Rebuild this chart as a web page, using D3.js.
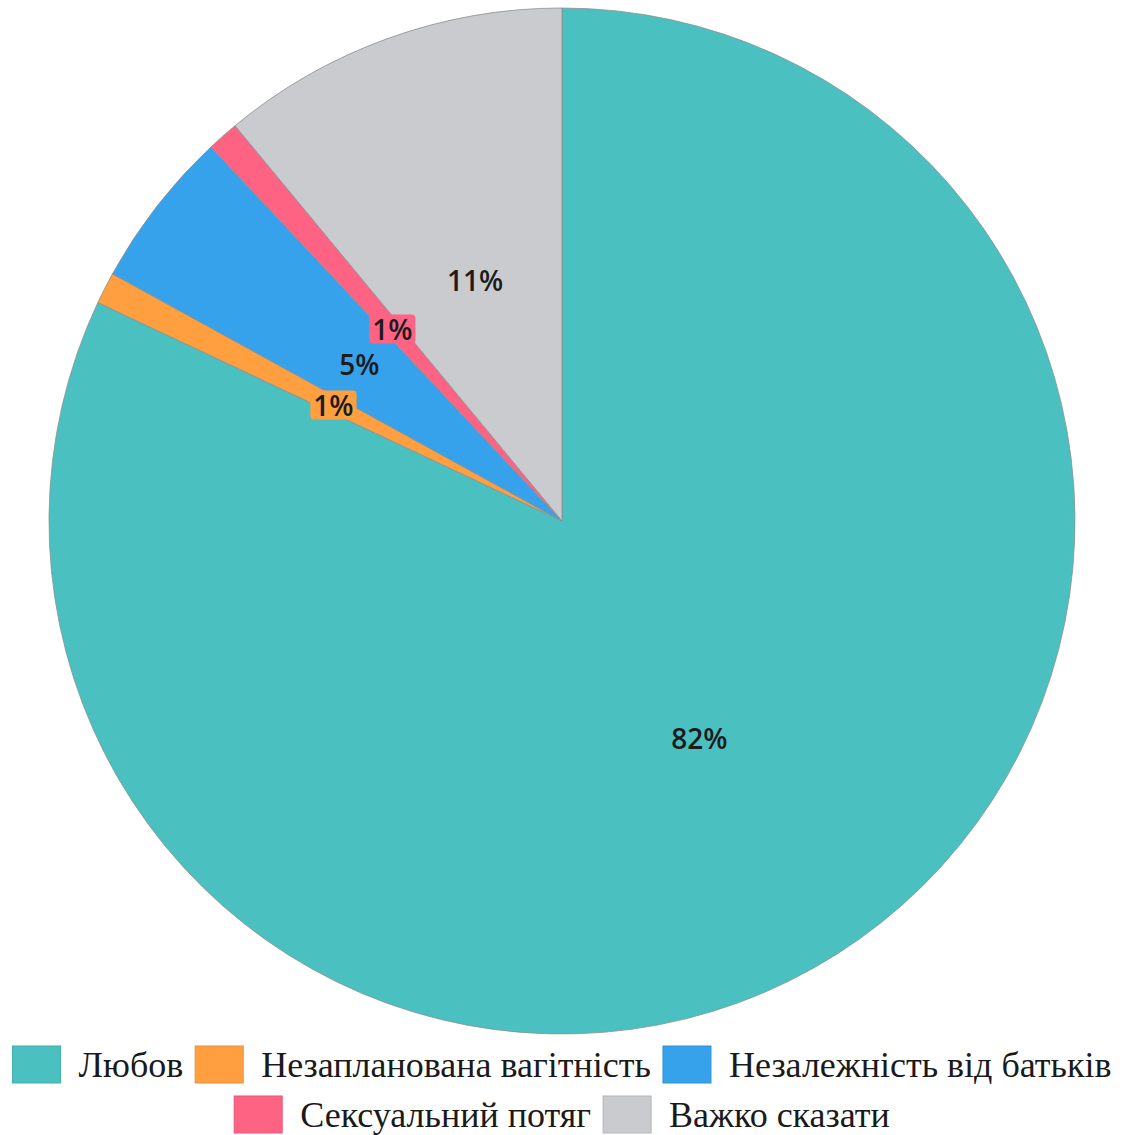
<!DOCTYPE html>
<html>
<head>
<meta charset="utf-8">
<script src="https://d3js.org/d3.v7.min.js"></script>
<style>
  body { margin: 0; background: #fff; }
  svg { display: block; }
</style>
</head>
<body>
<div id="chart"></div>
<script>
// chart data
const categories = ['Любов', 'Незапланована вагітність', 'Незалежність від батьків', 'Сексуальний потяг', 'Важко сказати'];
const values = [82, 1, 5, 1, 11];
const colors = ['#4BC0C0', '#FF9F40', '#36A2EB', '#FF6384', '#C9CBCF'];
const boxedLabels = [false, true, false, true, false]; // small slices get a coloured label box
const legendRows = [[0, 1, 2], [3, 4]];

const width = 1124, height = 1135;
const cx = 562, cy = 521, radius = 513;
const labelSize = 28;

let svg = d3.select('#chart')
    .append('svg')
    .attr('width', width)
    .attr('height', height);

let pie = d3.pie()
    .sort(null)
    .value((d) => d)
    .startAngle(0)
    .endAngle(2 * Math.PI);

let arc = d3.arc()
    .innerRadius(0)
    .outerRadius(radius);

let arcs = pie(values);
let total = d3.sum(values);

let pieGroup = svg.append('g')
    .attr('transform', 'translate(' + cx + ',' + cy + ')');

pieGroup.selectAll('path')
    .data(arcs)
    .enter().append('path')
      .attr('d', arc)
      .attr('fill', (d, i) => colors[i])
      .attr('stroke', '#8a9090')
      .attr('stroke-width', 0.8);

//percent labels at the centroid
let labels = pieGroup.selectAll('g.label')
    .data(arcs)
    .enter().append('g')
      .attr('class', 'label')
      .attr('transform', (d) => 'translate(' + arc.centroid(d) + ')');

labels.each(function(d, i) {
    let g = d3.select(this);
    let txt = g.append('text')
        .attr('text-anchor', 'middle')
        .attr('dominant-baseline', 'central')
        .attr('font-family', '"Open Sans", sans-serif')
        .attr('font-weight', 600)
        .attr('font-size', labelSize)
        .attr('fill', '#1c1c1c')
        .text(Math.round(d.value / total * 100) + '%');
    if (boxedLabels[i]) {
        let w = txt.node().getComputedTextLength();
        g.insert('rect', 'text')
            .attr('x', -w / 2 - 3)
            .attr('y', -labelSize / 2)
            .attr('width', w + 6)
            .attr('height', labelSize + 1)
            .attr('rx', 4)
            .attr('fill', colors[i]);
    }
});

//legend
const boxW = 48, boxH = 37, boxGap = 18, itemGap = 12;
const rowY = [1046, 1096];
let legend = svg.append('g');
legendRows.forEach((row, r) => {
    let rowG = legend.append('g');
    let x = 0;
    row.forEach((idx) => {
        let item = rowG.append('g').attr('transform', 'translate(' + x + ',0)');
        item.append('rect')
            .attr('width', boxW)
            .attr('height', boxH)
            .attr('fill', colors[idx])
            .attr('stroke', d3.color(colors[idx]).darker(0.3))
            .attr('stroke-width', 1);
        let t = item.append('text')
            .attr('x', boxW + boxGap)
            .attr('y', boxH / 2)
            .attr('dominant-baseline', 'central')
            .attr('font-family', '"Liberation Serif", "Times New Roman", serif')
            .attr('font-size', 36)
            .attr('fill', '#1a1a1a')
            .text(categories[idx]);
        x += boxW + boxGap + t.node().getComputedTextLength() + itemGap;
    });
    let rowWidth = x - itemGap;
    rowG.attr('transform', 'translate(' + (cx - rowWidth / 2) + ',' + rowY[r] + ')');
});
</script>
</body>
</html>
